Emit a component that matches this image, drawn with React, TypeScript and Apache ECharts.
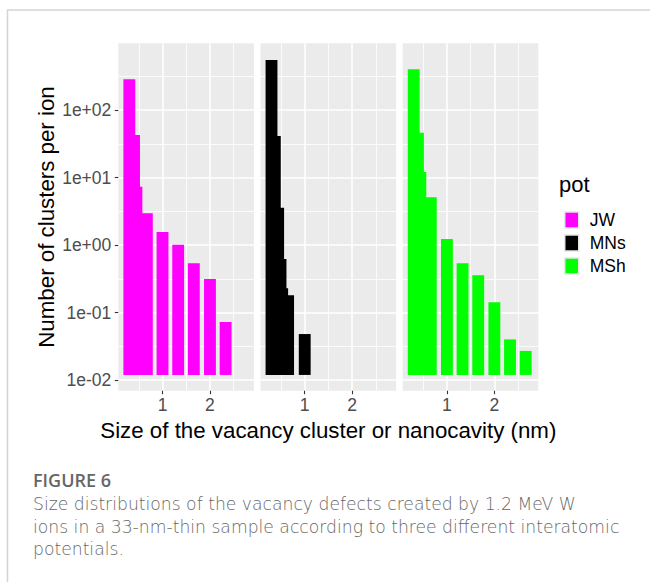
import React, { useEffect, useRef } from "react";
import * as echarts from "echarts";

// ---- data ----
const POTENTIALS = ["JW", "MNs", "MSh"];
const POT_COLORS = ["#FF00FF", "#000000", "#00FF00"];

// cluster size (nm) and number of clusters per ion
const JW_SIZE = [0.3, 0.4, 0.45, 0.67, 1.0, 1.33, 1.66, 2.0, 2.33];
const JW_COUNT = [285, 42.6, 7.3, 2.95, 1.56, 1.01, 0.536, 0.313, 0.0724];

const MNS_SIZE = [0.3, 0.37, 0.44, 0.49, 0.525, 0.65, 1.0];
const MNS_COUNT = [550, 41.2, 3.57, 0.62, 0.228, 0.18, 0.048];

const MSH_SIZE = [0.3, 0.39, 0.44, 0.66, 1.0, 1.33, 1.66, 2.0, 2.33, 2.66];
const MSH_COUNT = [400, 46, 12.1, 5.08, 1.23, 0.536, 0.356, 0.142, 0.04, 0.027];

const BAR_WIDTH = 0.25; // nm
const BAR_BASE = 0.0119; // bars start at the lower end of the data range

const X_TICKS = [1, 2];
const X_MINOR = [0.5, 1.5, 2.5];
const X_RANGE = [0.068, 2.926];
const Y_TICK_EXPONENTS = [-2, -1, 0, 1, 2];
const Y_MINOR_EXPONENTS = [-1.5, -0.5, 0.5, 1.5, 2.5];
const Y_RANGE_EXP = [-2.158, 2.988];

const X_TITLE = "Size of the vacancy cluster or nanocavity (nm)";
const Y_TITLE = "Number of clusters per ion";
const LEGEND_TITLE = "pot";
const FIG_LABEL = "FIGURE 6";
const CAPTION_LINES = [
  "Size distributions of the vacancy defects created by 1.2 MeV W",
  "ions in a 33-nm-thin sample according to three different interatomic",
  "potentials.",
];

// ---- layout ----
const W = 650;
const H = 582;
const GRID_LEFTS = [118.3, 260.5, 402.7];
const GRID_TOP = 43.3;
const GRID_W = 135.6;
const GRID_H = 347.4;
const FONT = "'Liberation Sans', Arial, Helvetica, sans-serif";
const LABEL_FONT = "'Open Sans', 'Noto Sans', sans-serif";
const CAPTION_FONT = "'DejaVu Sans', 'Open Sans', sans-serif";
const CAPTION_TOP = 504;
const CAPTION_STEP = 22.6;

const sci = (e: number) => {
  const r = Math.round(e);
  return `1e${r < 0 ? "-" : "+"}${String(Math.abs(r)).padStart(2, "0")}`;
};

export default function App() {
  const ref = useRef<HTMLDivElement>(null);

  useEffect(() => {
    if (!ref.current) return;
    const chart = echarts.init(ref.current, undefined, { renderer: "svg" });

    const sizes = [JW_SIZE, MNS_SIZE, MSH_SIZE];
    const counts = [JW_COUNT, MNS_COUNT, MSH_COUNT];

    const grids = GRID_LEFTS.map((left) => ({
      left,
      top: GRID_TOP,
      width: GRID_W,
      height: GRID_H,
      show: true,
      backgroundColor: "#EBEBEB",
      borderWidth: 0,
      z: 0,
    }));

    const xAxes: any[] = [];
    const yAxes: any[] = [];
    GRID_LEFTS.forEach((_, i) => {
      xAxes.push({
        type: "value",
        gridIndex: i,
        position: "bottom",
        z: 3,
        min: X_RANGE[0],
        max: X_RANGE[1],
        axisLine: { show: false, onZero: false },
        axisTick: {
          show: true,
          length: 3.5,
          customValues: X_TICKS,
          lineStyle: { color: "#333333", width: 1.1 },
        },
        axisLabel: {
          show: true,
          customValues: X_TICKS,
          formatter: (v: number) => String(Math.round(v)),
          color: "#4D4D4D",
          fontSize: 17.5,
          fontFamily: FONT,
          margin: 5,
        },
        splitLine: { show: true, lineStyle: { color: "#FFFFFF", width: 1.6, opacity: 1 } },
      });
      xAxes.push({
        type: "value",
        gridIndex: i,
        position: "bottom",
        z: 2,
        min: X_RANGE[0],
        max: X_RANGE[1],
        axisLine: { show: false, onZero: false },
        axisTick: { show: false, customValues: X_MINOR },
        axisLabel: { show: false, customValues: X_MINOR },
        splitLine: { show: true, lineStyle: { color: "#FFFFFF", width: 0.8, opacity: 1 } },
      });
      yAxes.push({
        type: "value",
        gridIndex: i,
        position: "left",
        z: 3,
        min: Y_RANGE_EXP[0],
        max: Y_RANGE_EXP[1],
        axisLine: { show: false, onZero: false },
        axisTick: {
          show: i === 0,
          length: 3.5,
          customValues: Y_TICK_EXPONENTS,
          lineStyle: { color: "#333333", width: 1.1 },
        },
        axisLabel: {
          show: i === 0,
          customValues: Y_TICK_EXPONENTS,
          formatter: (v: number) => sci(v),
          color: "#4D4D4D",
          fontSize: 17.5,
          fontFamily: FONT,
          margin: 7,
        },
        splitLine: { show: true, lineStyle: { color: "#FFFFFF", width: 1.6, opacity: 1 } },
      });
      yAxes.push({
        type: "value",
        gridIndex: i,
        position: "left",
        z: 2,
        min: Y_RANGE_EXP[0],
        max: Y_RANGE_EXP[1],
        axisLine: { show: false, onZero: false },
        axisTick: { show: false, customValues: Y_MINOR_EXPONENTS },
        axisLabel: { show: false, customValues: Y_MINOR_EXPONENTS },
        splitLine: { show: true, lineStyle: { color: "#FFFFFF", width: 0.8, opacity: 1 } },
      });
    });

    const series = POTENTIALS.map((name, i) => ({
      type: "custom",
      name,
      z: 5,
      xAxisIndex: 2 * i,
      yAxisIndex: 2 * i,
      itemStyle: { color: POT_COLORS[i] },
      encode: { x: 0, y: 1 },
      data: sizes[i].map((s, k) => [s, Math.log10(counts[i][k])]),
      renderItem: (_params: any, api: any) => {
        const x = api.value(0);
        const y = api.value(1);
        const p0 = api.coord([x - BAR_WIDTH / 2, Math.log10(BAR_BASE)]);
        const p1 = api.coord([x + BAR_WIDTH / 2, y]);
        return {
          type: "rect",
          shape: {
            x: p0[0],
            y: p1[1],
            width: p1[0] - p0[0],
            height: p0[1] - p1[1],
          },
          style: { fill: POT_COLORS[i] },
        };
      },
    }));

    const captionTexts = CAPTION_LINES.map((line, k) => ({
      type: "text",
      x: 33,
      y: CAPTION_TOP + k * CAPTION_STEP,
      style: {
        text: line,
        fontSize: 17.2,
        fontWeight: 300,
        fontFamily: CAPTION_FONT,
        fill: "#676767",
        textAlign: "left",
        textVerticalAlign: "middle",
      },
    }));

    const option: any = {
      animation: false,
      backgroundColor: "#FFFFFF",
      color: POT_COLORS,
      grid: grids,
      xAxis: xAxes,
      yAxis: yAxes,
      series,
      legend: {
        data: POTENTIALS,
        orient: "vertical",
        left: 559,
        top: 206,
        icon: "rect",
        itemWidth: 14,
        itemHeight: 16,
        itemGap: 5,
        itemStyle: { borderColor: "#E6E6E6", borderWidth: 1.5 },
        selectedMode: false,
        textStyle: {
          fontSize: 17.5,
          fontFamily: FONT,
          color: "#000000",
          lineHeight: 16,
          padding: [0, 0, 0, 6],
        },
      },
      graphic: [
        {
          type: "rect",
          silent: true,
          shape: { x: 7.5, y: 10, width: 800, height: 800 },
          style: { fill: "none", stroke: "#D4D4D4", lineWidth: 1.5 },
        },
        {
          type: "text",
          x: 46,
          y: GRID_TOP + GRID_H / 2,
          rotation: Math.PI / 2,
          style: {
            text: Y_TITLE,
            fontSize: 22.3,
            fontFamily: FONT,
            fill: "#000000",
            textAlign: "center",
            textVerticalAlign: "middle",
          },
        },
        {
          type: "text",
          x: (GRID_LEFTS[0] + GRID_LEFTS[2] + GRID_W) / 2,
          y: 430,
          style: {
            text: X_TITLE,
            fontSize: 22.3,
            fontFamily: FONT,
            fill: "#000000",
            textAlign: "center",
            textVerticalAlign: "middle",
          },
        },
        {
          type: "text",
          x: 559,
          y: 184,
          style: {
            text: LEGEND_TITLE,
            fontSize: 22,
            fontFamily: FONT,
            fill: "#000000",
            textAlign: "left",
            textVerticalAlign: "middle",
          },
        },
        {
          type: "text",
          x: 33,
          y: 480,
          style: {
            text: FIG_LABEL,
            fontSize: 18,
            fontWeight: 600,
            fontFamily: LABEL_FONT,
            fill: "#666666",
            textAlign: "left",
            textVerticalAlign: "middle",
          },
        },
        ...captionTexts,
      ],
    };

    chart.setOption(option);
    return () => chart.dispose();
  }, []);

  return (
    <div
      ref={ref}
      style={{ position: "absolute", left: 0, top: 0, width: W, height: H, background: "#fff" }}
    />
  );
}
